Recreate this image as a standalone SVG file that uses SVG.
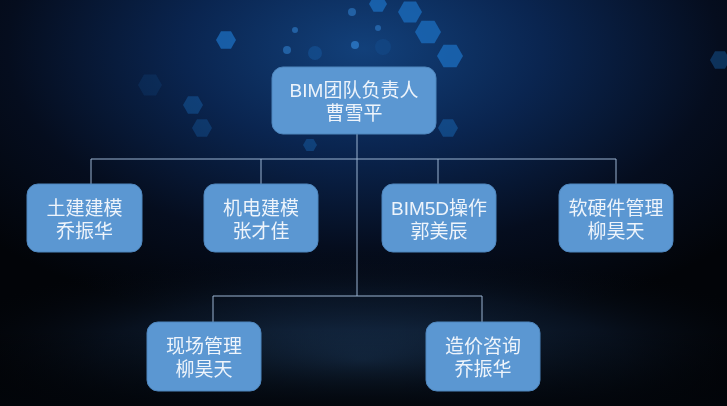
<svg xmlns="http://www.w3.org/2000/svg" width="727" height="406" viewBox="0 0 727 406">
<defs>
<radialGradient id="glow" cx="0.5" cy="0.12" r="0.7">
<stop offset="0" stop-color="#12407a"/>
<stop offset="0.35" stop-color="#0a2550"/>
<stop offset="0.7" stop-color="#050d1e"/>
<stop offset="1" stop-color="#020408"/>
</radialGradient>
<radialGradient id="floor" cx="0.5" cy="0.75" r="0.6">
<stop offset="0" stop-color="#1c3a5e" stop-opacity="0.9"/>
<stop offset="0.6" stop-color="#0c1a2e" stop-opacity="0.6"/>
<stop offset="1" stop-color="#03060c" stop-opacity="0"/>
</radialGradient>
<linearGradient id="bot" x1="0" y1="0" x2="0" y2="1">
<stop offset="0" stop-color="#000" stop-opacity="0"/>
<stop offset="1" stop-color="#02050a" stop-opacity="0.9"/>
</linearGradient>
<polygon id="hex" points="10,0 5,8.66 -5,8.66 -10,0 -5,-8.66 5,-8.66"/>
</defs>
<style>
.box{fill:#5b97d2;stroke:#4f86bd;stroke-width:1}
.t{font-family:"Liberation Sans","Noto Sans CJK SC",sans-serif;font-size:19px;fill:#eef4fb;text-anchor:middle}
.ln{stroke:#9bb4d2;stroke-width:1;fill:none}
.hx{fill:#1c6fc0}
</style>
<rect width="727" height="406" fill="url(#glow)"/>
<rect y="220" width="727" height="186" fill="url(#floor)"/>
<rect y="330" width="727" height="76" fill="url(#bot)"/>
<g opacity="0.75">
<use href="#hex" class="hx" transform="translate(226,40) scale(1)"/>
<use href="#hex" class="hx" transform="translate(378,4) scale(0.9)"/>
<use href="#hex" class="hx" transform="translate(410,12) scale(1.2)"/>
<use href="#hex" class="hx" transform="translate(428,32) scale(1.3)"/>
<use href="#hex" class="hx" transform="translate(450,56) scale(1.3)"/>
<use href="#hex" class="hx" transform="translate(448,128) scale(1)" opacity="0.6"/>
<use href="#hex" class="hx" transform="translate(193,105) scale(1)" opacity="0.5"/>
<use href="#hex" class="hx" transform="translate(202,128) scale(1)" opacity="0.4"/>
<use href="#hex" class="hx" transform="translate(310,145) scale(0.7)" opacity="0.5"/>
<use href="#hex" class="hx" transform="translate(150,85) scale(1.2)" opacity="0.2"/>
<use href="#hex" class="hx" transform="translate(720,60) scale(1)" opacity="0.5"/>
<circle cx="355" cy="45" r="4" fill="#2f7fce"/>
<circle cx="352" cy="12" r="4" fill="#2a70b8"/>
<circle cx="287" cy="50" r="4" fill="#2a70b8"/>
<circle cx="315" cy="53" r="7" fill="#154f90"/>
<circle cx="378" cy="28" r="3" fill="#2a70b8"/>
<circle cx="383" cy="47" r="8" fill="#154f90" opacity="0.6"/>
<circle cx="295" cy="30" r="3" fill="#2a70b8"/>
</g>
<g id="connectors" class="ln">
<line x1="357" y1="134" x2="357" y2="296"/>
<line x1="91" y1="159" x2="616" y2="159"/>
<line x1="91" y1="159" x2="91" y2="184"/>
<line x1="261" y1="159" x2="261" y2="184"/>
<line x1="438" y1="159" x2="438" y2="184"/>
<line x1="616" y1="159" x2="616" y2="184"/>
<line x1="213" y1="296" x2="482" y2="296"/>
<line x1="213" y1="296" x2="213" y2="322"/>
<line x1="482" y1="296" x2="482" y2="322"/>
</g>
<g id="n0"><rect class="box" x="272" y="67" width="164" height="67" rx="11"/>
<text class="t" x="354" y="97">BIM团队负责人</text><text class="t" x="354" y="120">曹雪平</text></g>
<g id="n1"><rect class="box" x="27" y="184" width="115" height="68" rx="11"/>
<text class="t" x="84.5" y="215">土建建模</text><text class="t" x="84.5" y="238">乔振华</text></g>
<g id="n2"><rect class="box" x="204" y="184" width="114" height="68" rx="11"/>
<text class="t" x="261" y="215">机电建模</text><text class="t" x="261" y="238">张才佳</text></g>
<g id="n3"><rect class="box" x="382" y="184" width="114" height="68" rx="11"/>
<text class="t" x="439" y="215">BIM5D操作</text><text class="t" x="439" y="238">郭美辰</text></g>
<g id="n4"><rect class="box" x="559" y="184" width="114" height="68" rx="11"/>
<text class="t" x="616" y="215">软硬件管理</text><text class="t" x="616" y="238">柳昊天</text></g>
<g id="n5"><rect class="box" x="147" y="322" width="114" height="69" rx="11"/>
<text class="t" x="204" y="353">现场管理</text><text class="t" x="204" y="376">柳昊天</text></g>
<g id="n6"><rect class="box" x="426" y="322" width="114" height="69" rx="11"/>
<text class="t" x="483" y="353">造价咨询</text><text class="t" x="483" y="376">乔振华</text></g>
</svg>
